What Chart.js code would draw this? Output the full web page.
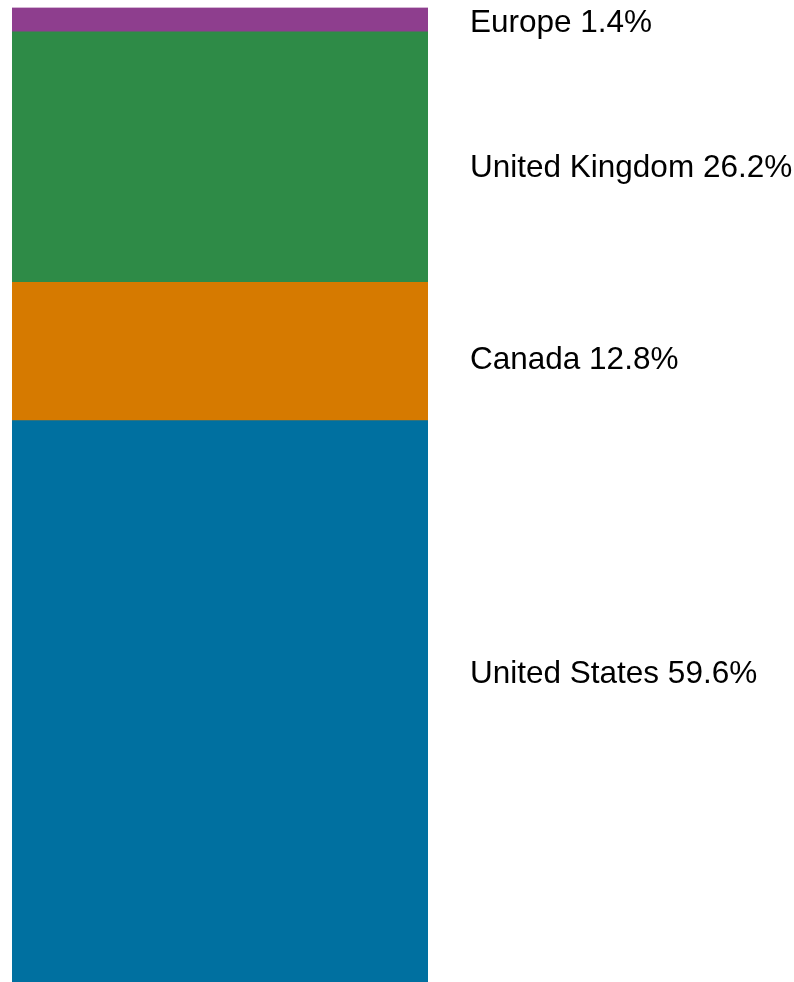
<!DOCTYPE html>
<html>
<head>
<meta charset="utf-8">
<script src="https://cdn.jsdelivr.net/npm/chart.js@4/dist/chart.umd.min.js"></script>
<style>
  html, body { margin: 0; padding: 0; background: #ffffff; }
  #wrap { width: 794px; height: 982px; position: relative; }
</style>
</head>
<body>
<div id="wrap"><canvas id="c"></canvas></div>
<script>
// Regions, top to bottom as drawn
const regions = ["Europe", "United Kingdom", "Canada", "United States"];
// Percentages printed in the labels
const labelPercents = [1.4, 26.2, 12.8, 59.6];
// Segment heights as drawn in the picture (share of the bar, %)
const segmentShares = [2.5, 25.7, 14.2, 57.6];
// Where each label's baseline sits, on the bar's 0-100 value scale
const labelBaselineAt = [97.5, 82.6, 62.9, 30.7];
const colors = ["#8e3e8e", "#2e8b47", "#d67a00", "#0070a0"];

// stacked bottom-first: reverse order
const order = [3, 2, 1, 0];
const datasets = order.map(i => ({
  label: regions[i],
  data: [segmentShares[i]],
  backgroundColor: colors[i],
  borderWidth: 0,
  barPercentage: 1,
  categoryPercentage: 1
}));

const labelPlugin = {
  id: 'sideLabels',
  afterDatasetsDraw(chart) {
    const ctx = chart.ctx;
    const y = chart.scales.y;
    const x0 = chart.chartArea.right + 42;
    ctx.save();
    ctx.fillStyle = '#000000';
    ctx.font = '31.5px "Liberation Sans", Arial, sans-serif';
    ctx.textAlign = 'left';
    ctx.textBaseline = 'alphabetic';
    regions.forEach((r, i) => {
      ctx.fillText(r + ' ' + labelPercents[i].toFixed(1) + '%', x0, y.getPixelForValue(labelBaselineAt[i]));
    });
    ctx.restore();
  }
};

new Chart(document.getElementById('c'), {
  type: 'bar',
  data: { labels: [''], datasets },
  options: {
    responsive: true,
    maintainAspectRatio: false,
    animation: false,
    devicePixelRatio: 1,
    layout: { padding: { left: 12, right: 366, top: 7.5, bottom: 0 } },
    plugins: { legend: { display: false }, tooltip: { enabled: false } },
    scales: {
      x: { stacked: true, display: false },
      y: { stacked: true, display: false, min: 0, max: 100 }
    }
  },
  plugins: [labelPlugin]
});
</script>
</body>
</html>
